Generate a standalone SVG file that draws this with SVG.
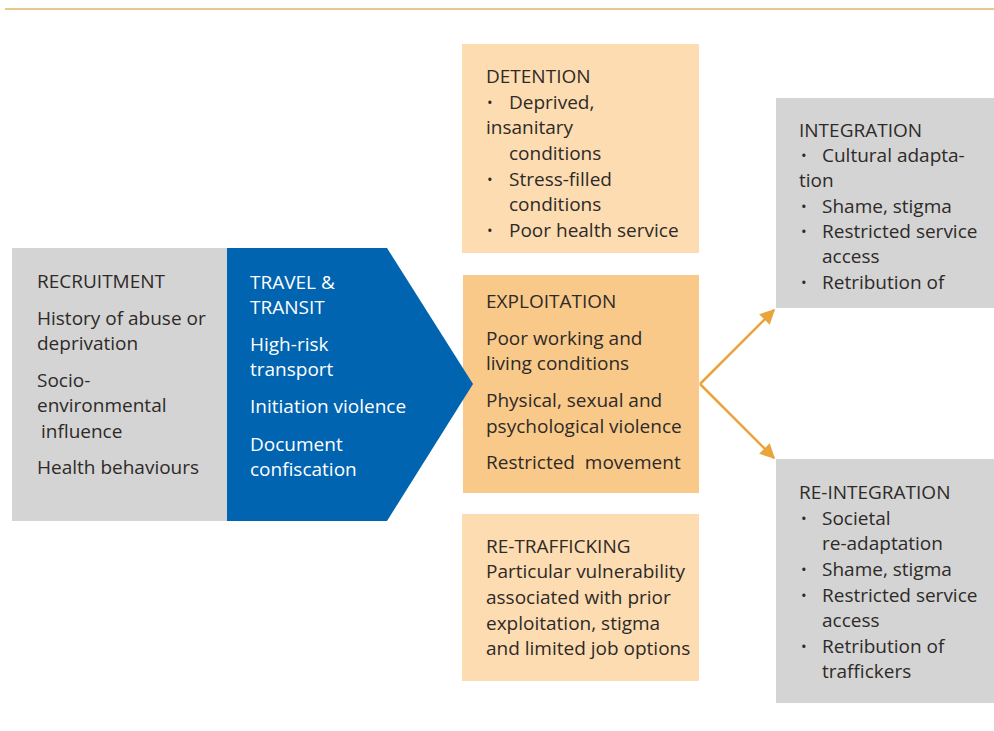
<svg xmlns="http://www.w3.org/2000/svg" width="994" height="731" viewBox="0 0 994 731">
  <style>
    text { font-family: "Open Sans", "Noto Sans", "Liberation Sans", sans-serif; font-size: 19px; fill: #2e2a28; }
    .light { fill: #ffffff; }
    .dot { font-size: 15px; }
    .gray { fill: #d4d4d4; }
    .peach { fill: #fddcb1; }
    .orange { fill: #f9c98a; }
    .blue { fill: #0064b0; }
    .conn { stroke: #eaa43c; stroke-width: 2.5; fill: none; }
  </style>
  <defs>
    <marker id="arrow" viewBox="0 0 10 10" refX="9" refY="5" markerWidth="6" markerHeight="6" orient="auto" markerUnits="strokeWidth">
      <path d="M0,0 L10,5 L0,10 Z" fill="#eaa43c"/>
    </marker>
  </defs>

  <rect width="994" height="731" fill="#ffffff"/>
  <!-- header rule -->
  <line x1="5" y1="9" x2="994" y2="9" stroke="#e8c98a" stroke-width="2"/>

  <g id="recruitment">
    <rect class="gray" x="12" y="248" width="216" height="273"/>
    <text x="37" y="288">RECRUITMENT</text>
    <text x="37" y="325">History of abuse or</text>
    <text x="37" y="350">deprivation</text>
    <text x="37" y="387">Socio-</text>
    <text x="37" y="412">environmental</text>
    <text x="41" y="438">influence</text>
    <text x="37" y="474">Health behaviours</text>
  </g>

  <g id="detention">
    <rect class="peach" x="462" y="44" width="237" height="209"/>
    <text x="486" y="83">DETENTION</text>
    <text class="dot" x="487" y="108">•</text>
    <text x="509" y="109">Deprived,</text>
    <text x="486" y="134">insanitary</text>
    <text x="509" y="160">conditions</text>
    <text class="dot" x="487" y="185">•</text>
    <text x="509" y="186">Stress-filled</text>
    <text x="509" y="211">conditions</text>
    <text class="dot" x="487" y="236">•</text>
    <text x="509" y="237">Poor health service</text>
  </g>

  <g id="exploitation">
    <rect class="orange" x="463" y="275" width="236" height="218"/>
    <text x="486" y="308">EXPLOITATION</text>
    <text x="486" y="345">Poor working and</text>
    <text x="486" y="370">living conditions</text>
    <text x="486" y="407">Physical, sexual and</text>
    <text x="486" y="433">psychological violence</text>
    <text x="486" y="469" xml:space="preserve">Restricted  movement</text>
  </g>

  <!-- the arrow-shaped stage sits on top of the exploitation box edge -->
  <g id="travel">
    <polygon class="blue" points="227,248 387,248 473,384 387,521 227,521"/>
    <text class="light" x="250" y="289">TRAVEL &amp;</text>
    <text class="light" x="250" y="314">TRANSIT</text>
    <text class="light" x="250" y="351">High-risk</text>
    <text class="light" x="250" y="376">transport</text>
    <text class="light" x="250" y="413">Initiation violence</text>
    <text class="light" x="250" y="451">Document</text>
    <text class="light" x="250" y="476">confiscation</text>
  </g>

  <g id="re-trafficking">
    <rect class="peach" x="462" y="514" width="237" height="167"/>
    <text x="486" y="553">RE-TRAFFICKING</text>
    <text x="486" y="578">Particular vulnerability</text>
    <text x="486" y="604">associated with prior</text>
    <text x="486" y="630">exploitation, stigma</text>
    <text x="486" y="655">and limited job options</text>
  </g>

  <g id="integration">
    <rect class="gray" x="776" y="98" width="218" height="210"/>
    <text x="799" y="137">INTEGRATION</text>
    <text class="dot" x="801" y="161">•</text>
    <text x="822" y="162">Cultural adapta-</text>
    <text x="799" y="187">tion</text>
    <text class="dot" x="801" y="212">•</text>
    <text x="822" y="213">Shame, stigma</text>
    <text class="dot" x="801" y="237">•</text>
    <text x="822" y="238">Restricted service</text>
    <text x="822" y="263">access</text>
    <text class="dot" x="801" y="288">•</text>
    <text x="822" y="289">Retribution of</text>
  </g>

  <g id="re-integration">
    <rect class="gray" x="776" y="459" width="218" height="244"/>
    <text x="799" y="499">RE-INTEGRATION</text>
    <text class="dot" x="801" y="524">•</text>
    <text x="822" y="525">Societal</text>
    <text x="822" y="550">re-adaptation</text>
    <text class="dot" x="801" y="575">•</text>
    <text x="822" y="576">Shame, stigma</text>
    <text class="dot" x="801" y="601">•</text>
    <text x="822" y="602">Restricted service</text>
    <text x="822" y="627">access</text>
    <text class="dot" x="801" y="652">•</text>
    <text x="822" y="653">Retribution of</text>
    <text x="822" y="678">traffickers</text>
  </g>

  <g id="connectors">
    <line class="conn" x1="700" y1="384" x2="774" y2="310" marker-end="url(#arrow)"/>
    <line class="conn" x1="700" y1="384" x2="774" y2="458" marker-end="url(#arrow)"/>
  </g>
</svg>
